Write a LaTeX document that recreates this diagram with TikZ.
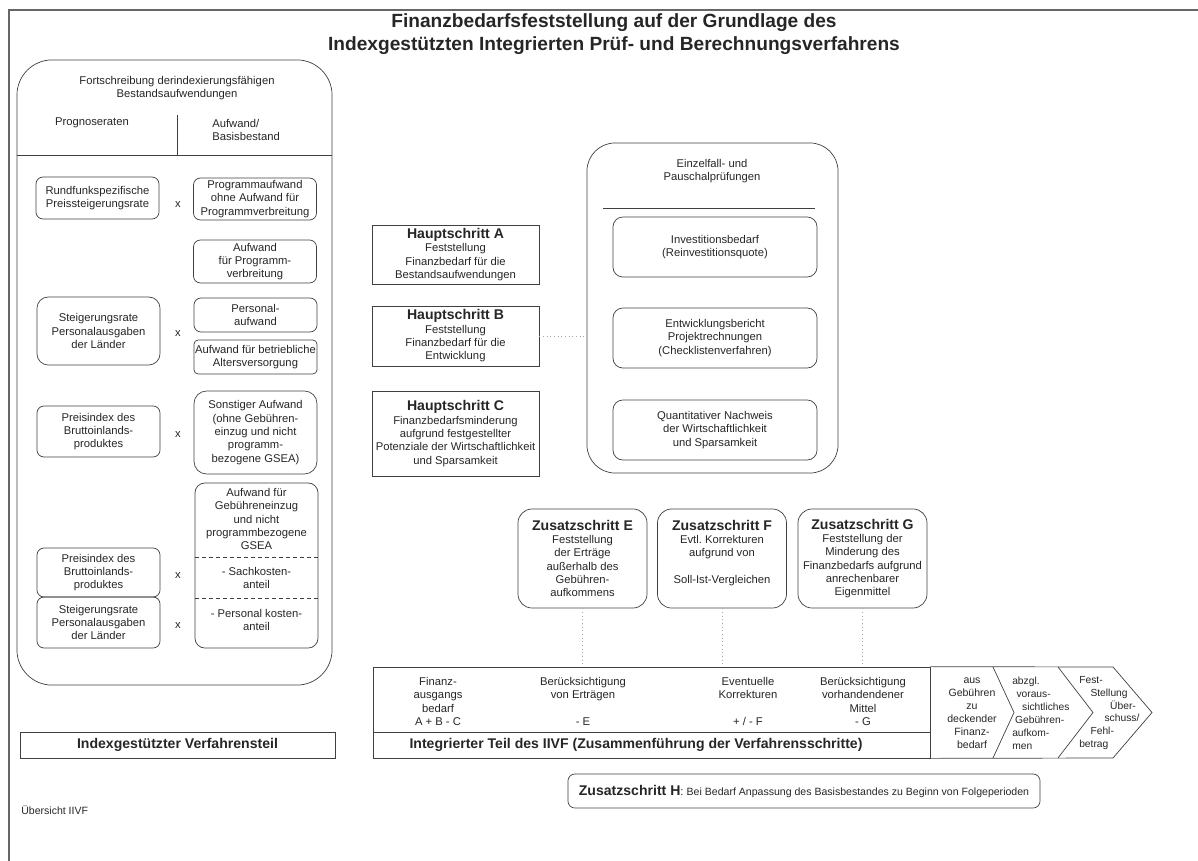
\documentclass[tikz,border=0pt]{standalone}
\usepackage{fontspec}
\setmainfont{Liberation Sans}
\usetikzlibrary{positioning,calc}

\newcommand{\hdfont}{\bfseries\fontsize{10}{11.5}\selectfont}

\begin{document}
\begin{tikzpicture}[
					x=0.025cm, y=-0.025cm,
					line/.style={draw=black!75, line width=0.5pt},
					txt/.style={font=\fontsize{8}{9.5}\selectfont, align=center, inner sep=0pt, text=black!85},
					panel/.style={line, rounded corners=25pt},
					smallbox/.style={line, rounded corners=5pt, minimum width=3.075cm, inner sep=1pt, txt},
					hstep/.style={line, minimum width=4.175cm, inner sep=1pt, txt},
					checkbox/.style={line, rounded corners=7pt, minimum width=5.1cm, minimum height=1.5cm, inner sep=1pt, txt},
					zstep/.style={line, rounded corners=10pt, minimum width=3.225cm, minimum height=2.475cm, inner sep=1pt, txt},
					times/.style={txt},
					faint/.style={dotted, draw=black!35, line width=0.6pt}
					]
					\useasboundingbox (0,0) rectangle (1198,861);
					
					% ===== FRAME =====
					\draw[draw=black!60, line width=0.8pt] (9,861) -- (9,10) -- (1198,10);
					
					% ===== TITLE =====
					\node[txt, font=\bfseries\fontsize{13.6}{16.5}\selectfont] (title) at (614,34)
					{Finanzbedarfsfeststellung auf der Grundlage des\\Indexgestützten Integrierten Prüf- und Berechnungsverfahrens};
					
					% ===== LEFT PANEL =====
					\node[panel, minimum width=7.875cm, minimum height=15.625cm] (P) at (174.5,372.5) {};
					\node[txt] (Phead) at (177,88) {Fortschreibung derindexierungsfähigen\\Bestandsaufwendungen};
					\node[txt] (Pcol1) at (92,123) {Prognoseraten};
					\node[txt, align=left, anchor=west] (Pcol2) at (212,130) {Aufwand/\\Basisbestand};
					\draw[line] (177,115) -- (177,155);
					\draw[line] (P.west |- 0,155) -- (P.east |- 0,155);
					
					% ===== LEFT PANEL: RATES x COSTS =====
					\node[smallbox, minimum height=1.05cm] (L1) at (97.5,198) {Rundfunkspezifische\\Preissteigerungsrate};
					\node[smallbox, minimum height=1.05cm] (R1) at (255,199) {Programmaufwand\\ohne Aufwand für\\Programmverbreitung};
					\node[smallbox, minimum height=1.075cm] (R2) at (255,261.5) {Aufwand\\für Programm-\\verbreitung};
					
					\node[smallbox, minimum height=1.7cm, rounded corners=8pt] (L2) at (98.5,331) {Steigerungsrate\\Personalausgaben\\der Länder};
					\node[smallbox, minimum height=0.85cm] (R3) at (255.5,315) {Personal-\\aufwand};
					\node[smallbox, minimum height=0.85cm, rounded corners=3pt] (R4) at (255.5,357) {Aufwand für betriebliche\\Altersversorgung};
					
					\node[smallbox, minimum height=1.275cm] (L3) at (98.5,431.5) {Preisindex des\\Bruttoinlands-\\produktes};
					\node[smallbox, minimum height=2.075cm, rounded corners=9pt] (R5) at (255.5,432.5) {Sonstiger Aufwand\\(ohne Gebühren-\\einzug und nicht\\programm-\\bezogene GSEA)};
					
					\node[smallbox, minimum height=4.125cm, rounded corners=7pt] (R6) at (256.5,565.5) {};
					\node[txt] (R6a) at (256.5,519) {Aufwand für\\Gebühreneinzug\\und nicht\\programmbezogene\\GSEA};
					\draw[line, densely dashed] (R6.west |- 0,557) -- (R6.east |- 0,557);
					\node[txt] (R6b) at (256.5,578) {- Sachkosten-\\anteil};
					\draw[line, densely dashed] (R6.west |- 0,598) -- (R6.east |- 0,598);
					\node[txt] (R6c) at (256.5,620) {- Personal kosten-\\anteil};
					\node[smallbox, minimum height=1.225cm] (L4) at (98.5,572.5) {Preisindex des\\Bruttoinlands-\\produktes};
					\node[smallbox, minimum height=1.275cm] (L5) at (98.5,622.5) {Steigerungsrate\\Personalausgaben\\der Länder};
					
					\node[times] (x1) at (178,205) {x};
					\node[times] (x2) at (178,334) {x};
					\node[times] (x3) at (178,435) {x};
					\node[times] (x4) at (178,576) {x};
					\node[times] (x5) at (178,626) {x};
					
					\node[line, minimum width=7.875cm, minimum height=0.65cm, txt, font=\hdfont] (IV) at (177.5,745) {Indexgestützter Verfahrensteil};
					\node[txt, font=\fontsize{7.5}{9}\selectfont, anchor=west] (ovw) at (21,810) {Übersicht IIVF};
					
					% ===== HAUPTSCHRITTE =====
					\node[hstep, minimum height=1.475cm] (HA) at (455.5,254.5) {{\hdfont Hauptschritt A}\\Feststellung\\Finanzbedarf für die\\Bestandsaufwendungen};
					\node[hstep, minimum height=1.5cm] (HB) at (455.5,336) {{\hdfont Hauptschritt B}\\Feststellung\\Finanzbedarf für die\\Entwicklung};
					\node[hstep, minimum height=2.125cm] (HC) at (455.5,433.5) {{\hdfont Hauptschritt C}\\Finanzbedarfsminderung\\aufgrund festgestellter\\Potenziale der Wirtschaftlichkeit\\und Sparsamkeit};
					
					% ===== PRUEFUNGEN =====
					\node[panel, rounded corners=20pt, minimum width=6.275cm, minimum height=8.25cm] (RB) at (712.5,308) {};
					\node[txt] (RBhead) at (712,171) {Einzelfall- und\\Pauschalprüfungen};
					\draw[line] (603,208) -- (815,208);
					\node[checkbox] (I1) at (715,247) {Investitionsbedarf\\(Reinvestitionsquote)};
					\node[checkbox] (I2) at (715,338) {Entwicklungsbericht\\Projektrechnungen\\(Checklistenverfahren)};
					\node[checkbox] (I3) at (715,430) {Quantitativer Nachweis\\der Wirtschaftlichkeit\\und Sparsamkeit};
					\draw[faint] (HB.east) -- (RB.west |- HB.east);
					
					% ===== ZUSATZSCHRITTE =====
					\node[zstep] (E) at (582.5,558.5) {{\hdfont Zusatzschritt E}\\Feststellung\\der Erträge\\außerhalb des\\Gebühren-\\aufkommens};
					\node[zstep] (F) at (722,558.5) {{\hdfont Zusatzschritt F}\\Evtl.\ Korrekturen\\aufgrund von\\~\\Soll-Ist-Vergleichen\\~};
					\node[zstep] (G) at (862.5,558.5) {{\hdfont Zusatzschritt G}\\Feststellung der\\Minderung des\\Finanzbedarfs aufgrund\\anrechenbarer\\Eigenmittel};
					
					% ===== INTEGRIERTER TEIL =====
					\node[line, minimum width=13.925cm, minimum height=2.275cm] (BAR) at (651.5,712.5) {};
					\draw[line] (BAR.west |- 0,732) -- (BAR.east |- 0,732);
					\node[txt, anchor=north] (C1) at (438,677) {Finanz-\\ausgangs\\bedarf\\A + B - C};
					\node[txt, anchor=north] (C2) at (583,677) {Berücksichtigung\\von Erträgen\\~\\- E};
					\node[txt, anchor=north] (C3) at (748,677) {Eventuelle\\Korrekturen\\~\\+ / - F};
					\node[txt, anchor=north] (C4) at (863,677) {Berücksichtigung\\vorhandendener\\Mittel\\- G};
					\node[txt, font=\bfseries\fontsize{10}{11}\selectfont] (Clabel) at (636,745) {Integrierter Teil des IIVF (Zusammenführung der Verfahrensschritte)};
					
					\draw[faint] (E.south) -- (E.south |- BAR.north);
					\draw[faint] (F.south) -- (F.south |- BAR.north);
					\draw[faint] (G.south) -- (G.south |- BAR.north);
					
					% ===== CHEVRONS =====
					\draw[line] (BAR.north east) -- (1113,667) -- (1152,712.5) -- (1113,758) -- (BAR.south east);
					\draw[line] (993,667) -- (1014,712.5) -- (993,758);
					\draw[line] (1058,667) -- (1093,712.5) -- (1058,758);
					\node[txt, font=\fontsize{7.5}{9.2}\selectfont] (K1) at (972,713) {aus\\Gebühren\\zu\\deckender\\Finanz-\\bedarf};
					\node[txt, font=\fontsize{7.3}{9.2}\selectfont, align=left, anchor=west] (K2) at (1012,713)
					{abzgl.\\\hspace*{3pt}voraus-\\\hspace*{7pt}sichtliches\\\hspace*{2pt}Gebühren-\\aufkom-\\men};
					\node[txt, font=\fontsize{7.3}{9.2}\selectfont, align=left, anchor=west] (K3) at (1079,713)
					{Fest-\\\hspace*{8pt}Stellung\\\hspace*{22pt}Über-\\\hspace*{18pt}schuss/\\\hspace*{8pt}Fehl-\\betrag};
					
					% ===== ZUSATZSCHRITT H =====
					\node[line, rounded corners=5pt, minimum width=11.8cm, minimum height=0.85cm, txt] (H) at (804,791)
					{{\hdfont Zusatzschritt H}: {\fontsize{7.5}{9}\selectfont Bei Bedarf Anpassung des Basisbestandes zu Beginn von Folgeperioden}};
				\end{tikzpicture}
\end{document}
